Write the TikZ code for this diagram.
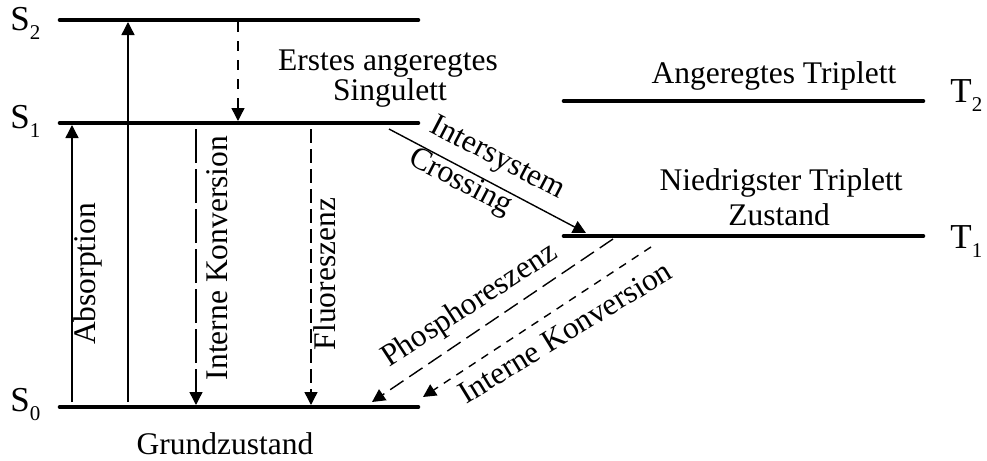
\documentclass[tikz,border=0pt]{standalone}
\usepackage{fontspec}
\setmainfont{Liberation Serif}
\usetikzlibrary{arrows.meta}
\newcommand{\lvlsub}[1]{\raisebox{-4.5pt}{\fontsize{10.5}{11}\selectfont #1}}
\begin{document}
\begin{tikzpicture}[x=0.5pt,y=-0.5pt,
  level/.style={line width=2.3pt, line cap=round},
  trans/.style={line width=0.7pt, -{Triangle[length=6.5pt,width=6.5pt]}},
  lbl/.style={font=\fontsize{15.75}{16}\selectfont, inner sep=0pt},
  st/.style={font=\fontsize{17.5}{19}\selectfont, inner sep=0pt, anchor=base west}]
\useasboundingbox (0,0) rectangle (987,461);

% level end points
\coordinate (S2a) at (60,20);  \coordinate (S2b) at (418,20);
\coordinate (S1a) at (60,123); \coordinate (S1b) at (418,123);
\coordinate (S0a) at (60,407); \coordinate (S0b) at (418,407);
\coordinate (T2a) at (564,101); \coordinate (T2b) at (923,101);
\coordinate (T1a) at (564,236); \coordinate (T1b) at (923,236);

\draw[level] (S2a) -- (S2b);
\draw[level] (S1a) -- (S1b);
\draw[level] (S0a) -- (S0b);
\draw[level] (T2a) -- (T2b);
\draw[level] (T1a) -- (T1b);

% level labels
\node[st] (lS2) at (10,30) {S\lvlsub{2}};
\node[st] (lS1) at (10,128) {S\lvlsub{1}};
\node[st] (lS0) at (10,411) {S\lvlsub{0}};
\node[st] (lT2) at (950,102) {T\lvlsub{2}};
\node[st] (lT1) at (950,248) {T\lvlsub{1}};

% state texts
\node[lbl, anchor=base] (tS1a) at (388,70) {Erstes angeregtes};
\node[lbl, anchor=base] (tS1b) at (390,100) {Singulett};
\node[lbl, anchor=base] (tT2) at (774,83) {Angeregtes Triplett};
\node[lbl, anchor=base] (tT1a) at (781,190) {Niedrigster Triplett};
\node[lbl, anchor=base] (tT1b) at (779,225) {Zustand};
\node[lbl, anchor=base] (tS0) at (225,454) {Grundzustand};

% transition end points
\coordinate (abs1a) at (72,402);  \coordinate (abs1b) at (72,125);
\coordinate (abs2a) at (128,402); \coordinate (abs2b) at (128,22);
\coordinate (ic1a) at (238,22);   \coordinate (ic1b) at (238,121);
\coordinate (ic2a) at (196,129);  \coordinate (ic2b) at (196,405);
\coordinate (flua) at (311,129);  \coordinate (flub) at (311,405);
\coordinate (isca) at (389,129);  \coordinate (iscb) at (586,233);
\coordinate (phoa) at (613,239);  \coordinate (phob) at (372,402);
\coordinate (ic3a) at (651,247);  \coordinate (ic3b) at (423,397);

\draw[trans] (abs1a) -- (abs1b);
\draw[trans] (abs2a) -- (abs2b);
\draw[trans, dash pattern=on 5pt off 4.5pt] (ic1a) -- (ic1b);
\draw[trans, dash pattern=on 17pt off 3pt] (ic2a) -- (ic2b);
\draw[trans, dash pattern=on 7pt off 3pt] (flua) -- (flub);
\draw[trans] (isca) -- (iscb);
\draw[trans, dash pattern=on 8pt off 3.5pt] (phoa) -- (phob);
\draw[trans, dash pattern=on 4pt off 3.5pt] (ic3a) -- (ic3b);

% transition labels
\node[lbl, rotate=90] (labs) at (88,274) {Absorption};
\node[lbl, rotate=90] (lic2) at (217,258) {Interne Konversion};
\node[lbl, rotate=90] (lflu) at (325,274) {Fluoreszenz};
\node[lbl, rotate=-27.5] (lisc1) at (497,159) {Intersystem};
\node[lbl, rotate=-27.5] (lisc2) at (460,183) {Crossing};
\node[lbl, rotate=33] (lpho) at (470,306) {Phosphoreszenz};
\node[lbl, rotate=31.5] (lic3) at (565,332) {Interne Konversion};
\end{tikzpicture}
\end{document}
